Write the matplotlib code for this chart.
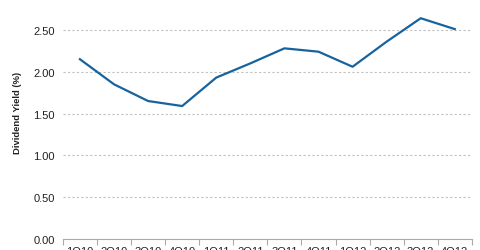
import numpy as np
import matplotlib
matplotlib.use('Agg')
import matplotlib.pyplot as plt

quarters = ['1Q10', '2Q10', '3Q10', '4Q10', '1Q11', '2Q11',
            '3Q11', '4Q11', '1Q12', '2Q12', '3Q12', '4Q12']
dividend_yield = [2.15, 1.85, 1.65, 1.59, 1.93, 2.10,
                  2.28, 2.24, 2.06, 2.36, 2.64, 2.51]
y_ticks = [0.0, 0.5, 1.0, 1.5, 2.0, 2.5]

plt.rcParams['font.family'] = ['Liberation Sans', 'DejaVu Sans']

fig = plt.figure(figsize=(4.8, 2.51), dpi=100)
ax = fig.add_axes([0.131, 0.0438, 0.852, 0.9562])

x = np.arange(len(quarters))
ax.plot(x, dividend_yield, color='#17639e', linewidth=1.6, zorder=3)

ax.set_xlim(-0.5, len(quarters) - 0.5)
ax.set_ylim(0, 2.87)
ax.set_yticks(y_ticks)
ax.set_yticklabels(['%.2f' % v for v in y_ticks], fontsize=8, color='#222222')
ax.yaxis.grid(True, linestyle=(0, (2, 2)), color='#c0c0c0', linewidth=0.8)
ax.tick_params(axis='y', length=0, pad=6)

# category boundaries carry the tick marks, labels sit in the centers
ax.set_xticks(np.arange(len(quarters) + 1) - 0.5)
ax.set_xticklabels([])
ax.set_xticks(x, minor=True)
ax.set_xticklabels(quarters, minor=True, fontsize=8, color='#222222')
ax.tick_params(axis='x', which='major', length=4, color='#aaaaaa', direction='out')
ax.tick_params(axis='x', which='minor', length=0, pad=5)

for s in ['top', 'right', 'left']:
    ax.spines[s].set_visible(False)
ax.spines['bottom'].set_color('#aaaaaa')

fig.text(0.036, 0.55, 'Dividend Yield (%)', rotation=90, fontsize=6.8,
         fontweight='bold', color='#222222', ha='center', va='center')

fig.savefig('out.png', dpi=100)
